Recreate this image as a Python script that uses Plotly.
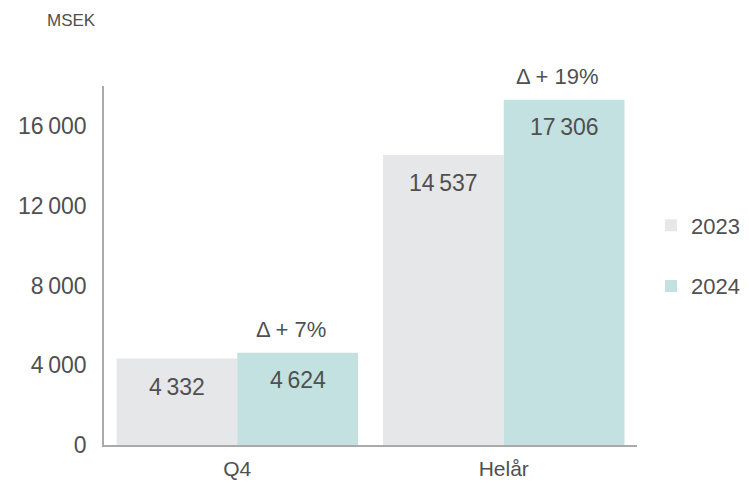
import plotly.graph_objects as go

categories = ["Q4", "Helår"]
series_names = ["2023", "2024"]
values_2023 = [4332, 14537]
values_2024 = [4624, 17306]
bar_labels_2023 = ["4\u2009332", "14\u2009537"]
bar_labels_2024 = ["4\u2009624", "17\u2009306"]
delta_labels = ["Δ + 7%", "Δ + 19%"]
tick_vals = [0, 4000, 8000, 12000, 16000]
tick_text = ["0", "4\u2009000", "8\u2009000", "12\u2009000", "16\u2009000"]

FONT = "Liberation Sans, Arial, sans-serif"
TXT = "#505050"
C23 = "#E6E7E9"
C24 = "#C2E1E0"

# plot area in figure pixels
L, T, R, B = 96, 78, 120, 56
PW, PH = 749 - L - R, 493 - T - B

fig = go.Figure()
fig.add_trace(go.Bar(x=categories, y=values_2023, name=series_names[0],
                     marker=dict(color=C23, line=dict(width=0)),
                     legendgroup="a"))
fig.add_trace(go.Bar(x=categories, y=values_2024, name=series_names[1],
                     marker=dict(color=C24, line=dict(width=0)),
                     legendgroup="b"))

ann = []
for i, c in enumerate(categories):
    ann.append(dict(x=i - 0.227, y=values_2023[i], xref="x", yref="y",
                    text=bar_labels_2023[i], showarrow=False, yshift=-28,
                    font=dict(size=23, color=TXT, family=FONT)))
    ann.append(dict(x=i + 0.227, y=values_2024[i], xref="x", yref="y",
                    text=bar_labels_2024[i], showarrow=False, yshift=-27,
                    font=dict(size=23, color=TXT, family=FONT)))
    ann.append(dict(x=i + 0.227, y=values_2024[i], xref="x", yref="y",
                    text=delta_labels[i], showarrow=False, yshift=23,
                    xshift=-7,
                    font=dict(size=22, color=TXT, family=FONT)))
ann.append(dict(x=(37 - L) / PW, y=1 + (T - 12) / PH, xref="paper",
                yref="paper", text="MSEK",
                showarrow=False, xanchor="left", yanchor="middle",
                font=dict(size=17, color=TXT, family=FONT)))

fig.update_layout(
    width=749, height=493,
    margin=dict(l=L, r=R, t=T, b=B, autoexpand=False),
    plot_bgcolor="white", paper_bgcolor="white",
    barmode="group", bargap=0.094, bargroupgap=0,
    font=dict(family=FONT, size=22, color=TXT),
    showlegend=True,
    legend=dict(x=(643 - L) / PW, y=1 - (248 - T) / PH,
                xanchor="left", yanchor="middle",
                traceorder="grouped", tracegroupgap=29,
                font=dict(size=22, color=TXT, family=FONT),
                itemwidth=30),
    xaxis=dict(showline=True, linecolor="#aaaaaa", linewidth=1.5,
               ticks="", showgrid=False, range=[-0.5, 1.5],
               ticklabelstandoff=4,
               tickfont=dict(size=21, color=TXT, family=FONT)),
    yaxis=dict(showline=True, linecolor="#aaaaaa", linewidth=1.5,
               ticks="", showgrid=False, range=[0, 18000],
               tickvals=tick_vals, ticktext=tick_text,
               ticklabelstandoff=11,
               tickfont=dict(size=23, color=TXT, family=FONT), zeroline=False),
    annotations=ann,
)
fig.write_html("out.html")
